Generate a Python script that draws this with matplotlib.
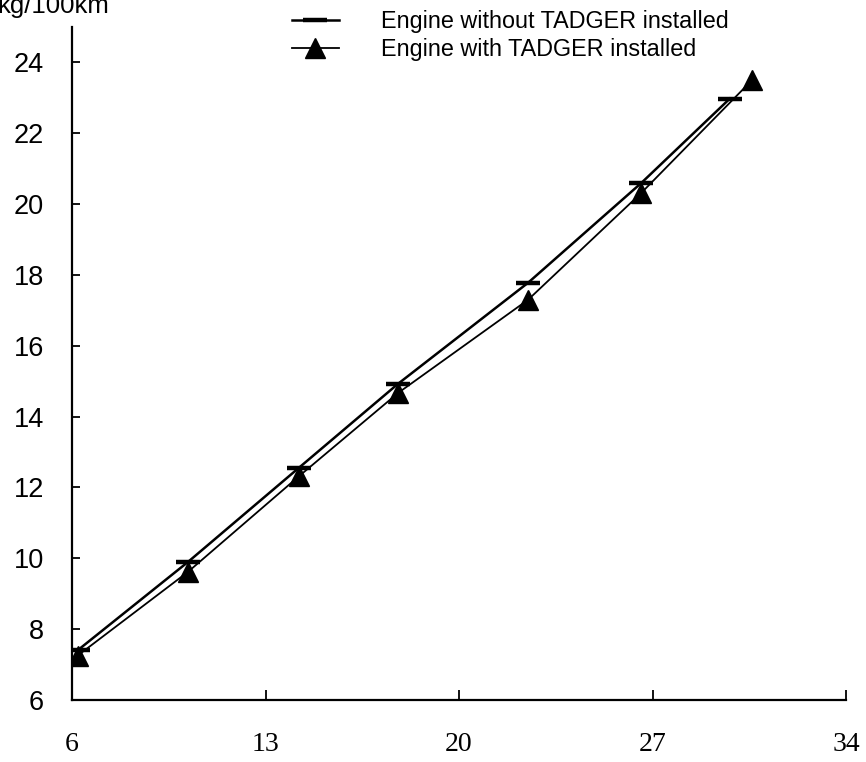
import matplotlib
matplotlib.use("Agg")
import matplotlib.pyplot as plt
from matplotlib.legend_handler import HandlerLine2D
import numpy as np

# ---- data ----
x_without = [6.2, 10.2, 14.2, 17.8, 22.5, 26.6, 29.8]
y_without = [7.40, 9.90, 12.55, 14.93, 17.78, 20.60, 22.98]
x_with = [6.2, 10.2, 14.2, 17.8, 22.5, 26.6, 30.6]
y_with = [7.25, 9.62, 12.31, 14.67, 17.30, 20.32, 23.50]
label_without = "Engine without TADGER installed"
label_with = "Engine with TADGER installed"
x_ticks = [6, 13, 20, 27, 34]
y_ticks = [6, 8, 10, 12, 14, 16, 18, 20, 22, 24]
y_unit = "kg/100km"

W, H = 866, 762
fig = plt.figure(figsize=(W / 100, H / 100), dpi=100)
ax = fig.add_axes([72 / W, (H - 700) / H, (846 - 72) / W, (700 - 27) / H])

ax.plot(x_without, y_without, color="black", lw=1.8, marker="_", ms=17, mew=3.2,
        label=label_without, zorder=3)
ax.plot(x_with, y_with, color="black", lw=1.3, marker="^", ms=14, mew=1,
        mfc="black", mec="black", label=label_with, zorder=4)

ax.set_xlim(6, 34)
ax.set_ylim(6, 25)
for s in ("top", "right"):
    ax.spines[s].set_visible(False)
for s in ("left", "bottom"):
    ax.spines[s].set_linewidth(1.6)
ax.spines["bottom"].set_bounds(6, 34)

ax.set_xticks(x_ticks)
ax.set_yticks(y_ticks)
ax.tick_params(axis="x", direction="in", length=7, width=1.3, pad=23,
               labelsize=20)
ax.tick_params(axis="y", direction="in", length=6, width=1.3, pad=20,
               labelsize=19.5)
for t in ax.get_xticklabels():
    t.set_fontfamily("Liberation Serif")
for t in ax.get_yticklabels():
    t.set_fontfamily("Liberation Sans")

fig.text(-3 / W, (H - 13) / H, y_unit, fontsize=18.5, family="Liberation Sans",
         ha="left", va="baseline")


class RightMarkerHandler(HandlerLine2D):
    def get_xdata(self, legend, xdescent, ydescent, width, height, fontsize):
        xdata = np.array([-xdescent, -xdescent + width])
        xm = np.array([-xdescent + width * 0.72])
        return xdata, xm


h = ax.get_legend_handles_labels()
leg = fig.legend(*h, loc="upper left", bbox_to_anchor=(292 / W, (H - 10) / H),
                 frameon=False, prop={"family": "Liberation Sans", "size": 16.8},
                 handlelength=2.0, handletextpad=1.83, labelspacing=0.22,
                 borderpad=0.0, borderaxespad=0.0,
                 handler_map={h[0][0]: RightMarkerHandler(numpoints=1),
                              h[0][1]: RightMarkerHandler(numpoints=1)})

fig.savefig("out.png", dpi=100)
